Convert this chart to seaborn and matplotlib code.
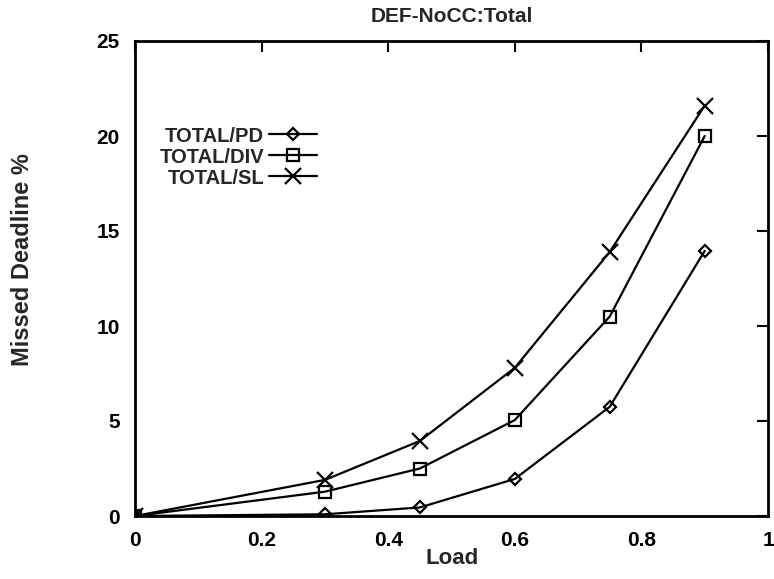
import matplotlib
matplotlib.use("Agg")
import matplotlib.pyplot as plt
import seaborn as sns
import pandas as pd

load = [0.0, 0.3, 0.45, 0.6, 0.75, 0.9]
total_pd = [0.0, 0.09, 0.45, 1.95, 5.75, 13.95]
total_div = [0.0, 1.28, 2.5, 5.05, 10.5, 20.0]
total_sl = [0.0, 1.9, 3.95, 7.8, 13.9, 21.6]
series_names = ["TOTAL/PD", "TOTAL/DIV", "TOTAL/SL"]
title = "DEF-NoCC:Total"
xlabel = "Load"
ylabel = "Missed Deadline %"
xticks = [0, 0.2, 0.4, 0.6, 0.8, 1]
xticklabels = ["0", "0.2", "0.4", "0.6", "0.8", "1"]
yticks = [0, 5, 10, 15, 20, 25]

sns.set_theme(style="white")
plt.rcParams["font.family"] = ["Liberation Sans", "DejaVu Sans"]
plt.rcParams["font.weight"] = "bold"

fig = plt.figure(figsize=(7.74, 5.79), dpi=100)
ax = fig.add_axes([135 / 774, 1 - 516 / 579, (768 - 135) / 774, (516 - 41) / 579])

markers = ["D", "s", "x"]
msizes = [6, 9, 11]
for name, vals, mk, ms in zip(series_names, [total_pd, total_div, total_sl], markers, msizes):
    df = pd.DataFrame({"x": load, "y": vals})
    sns.lineplot(data=df, x="x", y="y", ax=ax, color="black", linewidth=1.6,
                 marker=mk, markersize=ms, markerfacecolor="none",
                 markeredgecolor="black", markeredgewidth=1.6, label=name)

ax.set_xlim(0, 1)
ax.set_ylim(0, 25)
ax.set_xticks(xticks)
ax.set_xticklabels(xticklabels)
ax.set_yticks(yticks)
ax.set_yticklabels([str(v) for v in yticks])
ax.tick_params(axis="both", which="major", direction="in", length=8, width=1.5,
               top=True, right=True, labelsize=15, colors="black")
ax.tick_params(axis="x", pad=11)
ax.tick_params(axis="y", pad=11)
for lab in ax.get_xticklabels() + ax.get_yticklabels():
    lab.set_fontweight("bold")
for sp in ax.spines.values():
    sp.set_linewidth(2)
    sp.set_color("black")

ax.set_xlabel("")
ax.set_ylabel("")
fig.text(452 / 774, 1 - 559 / 579, xlabel, ha="center", va="center",
         fontsize=16, fontweight="bold")
fig.text(23 / 774, 1 - 260 / 579, ylabel, rotation=90, ha="center", va="center",
         fontsize=17, fontweight="bold")
fig.text(452 / 774, 1 - 17 / 579, title, ha="center", va="center",
         fontsize=15, fontweight="bold")

handles, labels = ax.get_legend_handles_labels()
leg = ax.legend(handles, labels, loc="upper right", bbox_to_anchor=(0.288, 0.82),
                markerfirst=False, frameon=False, fontsize=14.5, handlelength=2.4,
                handletextpad=0.25, labelspacing=0.1, borderpad=0, borderaxespad=0)
for t in leg.get_texts():
    t.set_fontweight("bold")
    t.set_ha("right")
leg._legend_box.align = "right"

fig.savefig("out.png", dpi=100, facecolor="white")
